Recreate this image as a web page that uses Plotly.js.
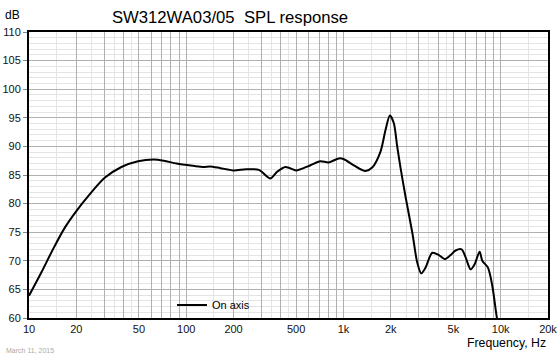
<!DOCTYPE html>
<html>
<head>
<meta charset="utf-8">
<script src="https://cdn.plot.ly/plotly-3.0.1.min.js"></script>
<style>html,body{margin:0;padding:0;background:#fff;}#chart{width:560px;height:356px;}</style>
</head>
<body>
<div id="chart"></div>
<script>
// Frequency response readings (Hz, dB)
const freqHz = [10, 12, 14.2, 16.9, 20, 23.8, 30.3, 38.7, 49.4, 62, 72, 87, 111, 129, 142, 165, 200, 240, 290, 343, 380, 427, 500, 532, 617, 713, 806, 934, 1000, 1164, 1380, 1523, 1721, 1853, 1974, 2090, 2197, 2306, 2483, 2742, 2947, 3125, 3327, 3670, 4048, 4399, 4805, 5166, 5645, 5987, 6442, 6830, 7348, 7640, 8300, 8850, 9440, 9650];
const splDb  = [63.9, 68.0, 72.0, 75.8, 78.7, 81.3, 84.5, 86.4, 87.4, 87.7, 87.5, 87.0, 86.6, 86.4, 86.5, 86.2, 85.8, 86.0, 85.9, 84.4, 85.6, 86.4, 85.8, 86.0, 86.7, 87.4, 87.2, 87.9, 87.8, 86.7, 85.7, 86.3, 89.1, 92.9, 95.4, 94.1, 90.0, 86.3, 81.2, 74.9, 69.7, 67.8, 68.8, 71.4, 71.0, 70.3, 71.0, 71.8, 72.0, 70.6, 68.5, 69.4, 71.6, 70.0, 68.8, 65.6, 60.2, 59.0];

const seriesName = "On axis";
const titleText = "SW312WA03/05\u00A0\u00A0SPL response";
const xTitle = "Frequency, Hz";
const yUnit = "dB";
const dateText = "March 11, 2015";

// Axis ticks
const xMajorVals = [10,20,30,40,50,60,70,80,90,100,200,300,400,500,600,700,800,900,1000,2000,3000,4000,5000,6000,7000,8000,9000,10000,20000];
const xMajorText = ["10","20","","","50","","","","","100","200","","","500","","","","","1k","2k","","","5k","","","","","10k","20k"];
const xMinorVals = [15,25,35,45,150,250,350,450,1500,2500,3500,4500,15000];

const FONT = "Liberation Sans, Arial, sans-serif";

const trace = {
  x: freqHz, y: splDb, type: "scatter", mode: "lines", name: seriesName,
  line: {color: "#000", width: 2, shape: "spline", smoothing: 0.8},
  showlegend: true, cliponaxis: true
};

const layout = {
  width: 560, height: 356,
  margin: {l: 29, r: 12, t: 32, b: 38, pad: 0},
  paper_bgcolor: "#fff", plot_bgcolor: "#fff",
  font: {family: FONT, size: 11, color: "#000"},
  title: {text: titleText, font: {family: FONT, size: 16.7, color: "#000"},
          xref: "container", yref: "container", x: 230/560, xanchor: "center", y: 1 - 17/356, yanchor: "middle"},
  xaxis: {
    type: "log", range: [1, Math.log10(20000)],
    tickmode: "array", tickvals: xMajorVals, ticktext: xMajorText,
    showgrid: true, gridcolor: "#b0b0b0", gridwidth: 1,
    ticks: "", tickfont: {family: FONT, size: 11, color: "#111"},
    showline: true, linecolor: "#000", linewidth: 2, mirror: true,
    zeroline: false,
    minor: {tickvals: xMinorVals, showgrid: true, gridcolor: "#e4e4e4", gridwidth: 1, ticks: ""}
  },
  yaxis: {
    range: [60, 110], dtick: 5, tick0: 60,
    showgrid: true, gridcolor: "#b0b0b0", gridwidth: 1,
    ticks: "outside", ticklen: 4, tickcolor: "#888", tickwidth: 1,
    tickfont: {family: FONT, size: 11, color: "#111"},
    showline: true, linecolor: "#000", linewidth: 2, mirror: true,
    zeroline: false,
    minor: {dtick: 1, showgrid: true, gridcolor: "#e4e4e4", gridwidth: 1, ticks: ""}
  },
  showlegend: true,
  legend: {x: (172-29)/519, y: (318-305)/286, xanchor: "left", yanchor: "middle",
           bgcolor: "rgba(0,0,0,0)", borderwidth: 0, itemwidth: 30,
           font: {family: FONT, size: 11, color: "#000"}},
  annotations: [
    {text: yUnit, xref: "paper", yref: "paper", x: -17/519, y: 1 + 17/286, xanchor: "center", yanchor: "middle",
     showarrow: false, font: {family: FONT, size: 12, color: "#000"}},
    {text: xTitle, xref: "paper", yref: "paper", x: 1, y: -(343-318)/286, xanchor: "right", yanchor: "middle",
     showarrow: false, font: {family: FONT, size: 12.3, color: "#000"}},
    {text: dateText, xref: "paper", yref: "paper", x: -25/519, y: -(350-318)/286, xanchor: "left", yanchor: "middle",
     showarrow: false, font: {family: FONT, size: 7, color: "#aaa"}}
  ]
};

Plotly.newPlot("chart", [trace], layout, {displayModeBar: false, staticPlot: true});
</script>
</body>
</html>
